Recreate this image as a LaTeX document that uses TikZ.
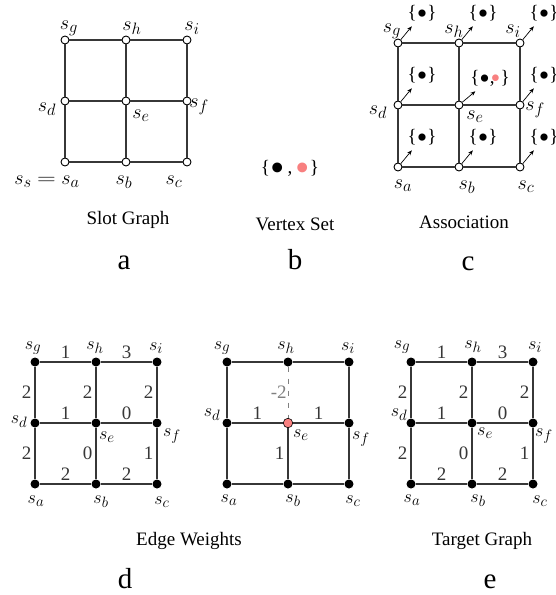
\documentclass[tikz,border=0pt]{standalone}
\usepackage{fix-cm}
\usepackage{fontspec}
\setmainfont{Liberation Serif}
\usepackage{xcolor}
\usetikzlibrary{arrows.meta,calc}

\definecolor{dotpink}{RGB}{248,128,128}
\definecolor{edgegray}{RGB}{55,55,55}
\DeclareMathSizes{20}{20}{16.5}{12}
\DeclareMathSizes{18}{18}{15}{11}
% set elements: size, lowering
\newcommand{\bdot}[2][30]{\raisebox{-#2}{\fontsize{#1}{#1}\selectfont\textbullet}}
\newcommand{\pdot}[2][30]{\raisebox{-#2}{\fontsize{#1}{#1}\selectfont\color{dotpink}\textbullet}}
\newcommand{\wideeq}{\mathrel{\scalebox{1.3}[1]{$=$}}}

\begin{document}
\begin{tikzpicture}[x=1pt, y=-1pt,
  every node/.style={font=\fontsize{19}{19}\selectfont},
  edge/.style={line width=1.3pt, edgegray},
  vtx/.style={circle, draw, fill=white, line width=0.9pt, inner sep=0pt, minimum size=8pt},
  dot/.style={circle, fill=black, inner sep=0pt, minimum size=9pt},
  pinkvtx/.style={circle, draw, fill=dotpink, line width=0.6pt, inner sep=0pt, minimum size=9.5pt},
  lbl/.style={font=\fontsize{20}{20}\selectfont, inner sep=0pt},
  lbls/.style={font=\fontsize{18}{18}\selectfont, inner sep=0pt},
  wt/.style={inner sep=3pt},
  letter/.style={font=\fontsize{29}{29}\selectfont, anchor=base},
  captext/.style={anchor=base},
  assoc/.style={-{Stealth[length=5pt,width=4pt]}, line width=0.7pt},
  vset/.style={inner sep=3pt}]
\useasboundingbox (0,0) rectangle (556,595);

% (a) slot graph
\foreach \n/\i/\j in {a/0/2,b/1/2,c/2/2,d/0/1,e/1/1,f/2/1,g/0/0,h/1/0,i/2/0}
  \node[vtx] (A-\n) at ({65+61*\i},{40+61*\j}) {};
\foreach \u/\v in {g/h,h/i,d/e,e/f,a/b,b/c,g/d,d/a,h/e,e/b,i/f,f/c}
  \draw[edge] (A-\u) -- (A-\v);
\foreach \n/\dx/\dy in {g/4/-12, h/6/-12, i/5/-12, d/-18/8, e/15/15, f/12/6, b/-2/20, c/-13/20}
  \node[lbl] (A-\n-l) at ($(A-\n)+(\dx,\dy)$) {$s_{\n}$};
\node[lbl] (A-a-l) at ($(A-a)+(-18,20)$) {$s_s \wideeq s_a$};
\node[captext] (capA) at (128,224) {Slot Graph};
\node[letter] (letA) at (124,269) {a};

% (b) vertex set
\node (vs) at (290,171) {\{\bdot[41]{8pt}\,,\,\pdot[41]{8pt}\}};
\node[captext] (capB) at (295,230) {Vertex Set};
\node[letter] (letB) at (295,269) {b};

% (c) association
\foreach \n/\i/\j in {a/0/2,b/1/2,c/2/2,d/0/1,e/1/1,f/2/1,g/0/0,h/1/0,i/2/0}
  \node[vtx] (C-\n) at ({398+61*\i},{43+62*\j}) {};
\foreach \u/\v in {g/h,h/i,d/e,e/f,a/b,b/c,g/d,d/a,h/e,e/b,i/f,f/c}
  \draw[edge] (C-\u) -- (C-\v);
\foreach \n in {a,b,c,d,f,g,h,i}
  \node[vset] (C-\n-s) at ($(C-\n)+(24,-29)$) {\{\bdot{5pt}\}};
\node[vset] (C-e-s) at ($(C-e)+(31,-26)$) {\{\bdot{5pt},\kern-4pt\pdot[28]{4.5pt}\}};
\foreach \n in {a,b,c,d,e,f,g,h,i}
  \draw[assoc] (C-\n) -- (C-\n-s);
\foreach \n/\dx/\dy in {g/-6/-12, h/-5/-12, i/-7/-12, d/-20/7, e/16/12, f/15/5, a/5/19, b/8/20, c/6/20}
  \node[lbl] (C-\n-l) at ($(C-\n)+(\dx,\dy)$) {$s_{\n}$};
\node[captext] (capC) at (464,228) {Association};
\node[letter] (letC) at (468,270) {c};

% (d) edge weights
\foreach \n/\i/\j in {a/0/2,b/1/2,c/2/2,d/0/1,e/1/1,f/2/1,g/0/0,h/1/0,i/2/0}
  \node[dot] (D-\n) at ({35+61*\i},{362+61*\j}) {};
\foreach \u/\v/\w/\p in {g/h/1/above, h/i/3/above, d/e/1/above, e/f/0/above, a/b/2/above, b/c/2/above,
    g/d/2/left, h/e/2/left, i/f/2/left, d/a/2/left, e/b/0/left, f/c/1/left}
  \draw[edge] (D-\u) -- node[wt,\p] {\w} (D-\v);
\foreach \n/\dx/\dy in {g/-2/-14, h/-1/-14, i/-1/-14, d/-16/-1, e/11/14, f/15/13, a/1/17, b/5/18, c/5/18}
  \node[lbls] (D-\n-l) at ($(D-\n)+(\dx,\dy)$) {$s_{\n}$};

% (d) weights seen from s_e
\foreach \n/\i/\j/\s in {a/0/2/dot,b/1/2/dot,c/2/2/dot,d/0/1/dot,e/1/1/pinkvtx,f/2/1/dot,g/0/0/dot,h/1/0/dot,i/2/0/dot}
  \node[\s] (M-\n) at ({227+61*\i},{362+61*\j}) {};
\foreach \u/\v in {g/h,h/i,a/b,b/c,g/d,d/a,i/f,f/c}
  \draw[edge] (M-\u) -- (M-\v);
\draw[edge] (M-d) -- node[wt,above] {1} (M-e);
\draw[edge] (M-e) -- node[wt,above] {1} (M-f);
\draw[edge] (M-e) -- node[wt,left] {1} (M-b);
\draw[gray, line width=0.6pt, dash pattern=on 5pt off 7pt] (M-h) -- node[left, inner sep=1pt] {-2} (M-e);
\foreach \n/\dx/\dy in {g/-5/-14, h/-2/-14, i/-1/-14, d/-15/-8, e/13/12, f/12/16, a/2/16, b/5/17, c/4/17}
  \node[lbls] (M-\n-l) at ($(M-\n)+(\dx,\dy)$) {$s_{\n}$};
\node[captext] (capD) at (189,545) {Edge Weights};
\node[letter] (letD) at (125,588) {d};

% (e) target graph
\foreach \n/\i/\j in {a/0/2,b/1/2,c/2/2,d/0/1,e/1/1,f/2/1,g/0/0,h/1/0,i/2/0}
  \node[dot] (E-\n) at ({411+61*\i},{362+61*\j}) {};
\foreach \u/\v/\w/\p in {g/h/1/above, h/i/3/above, d/e/1/above, e/f/0/above, a/b/2/above, b/c/2/above,
    g/d/2/left, h/e/2/left, i/f/2/left, d/a/2/left, e/b/0/left, f/c/1/left}
  \draw[edge] (E-\u) -- node[wt,\p] {\w} (E-\v);
\foreach \n/\dx/\dy in {g/-9/-15, h/1/-15, i/2/-15, d/-12/-8, e/13/10, f/11/13, a/1/16, b/6/17, c/7/17}
  \node[lbls] (E-\n-l) at ($(E-\n)+(\dx,\dy)$) {$s_{\n}$};
\node[captext] (capE) at (482,545) {Target Graph};
\node[letter] (letE) at (490,588) {e};
\end{tikzpicture}
\end{document}
